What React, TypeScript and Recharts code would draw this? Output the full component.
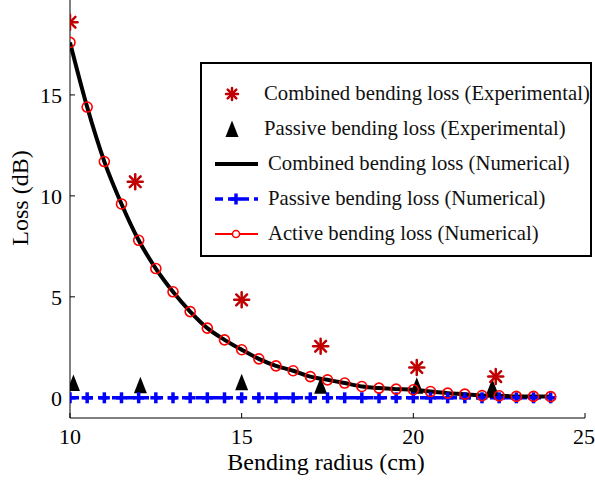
import React from "react";
import { ComposedChart, Legend, Line, Scatter, XAxis, YAxis } from "recharts";

// numerical curves, sampled every 0.5 cm
const radius = [
  10, 10.5, 11, 11.5, 12, 12.5, 13, 13.5, 14, 14.5, 15, 15.5, 16, 16.5, 17,
  17.5, 18, 18.5, 19, 19.5, 20, 20.5, 21, 21.5, 22, 22.5, 23, 23.5, 24,
];
const activeLoss = [
  17.6, 14.4, 11.7, 9.6, 7.8, 6.4, 5.25, 4.27, 3.45, 2.87, 2.38, 1.93, 1.58,
  1.34, 1.05, 0.89, 0.73, 0.56, 0.48, 0.43, 0.4, 0.31, 0.23, 0.18, 0.11, 0.1,
  0.07, 0.07, 0.06,
];
const combinedLoss = [
  17.6, 14.4, 11.7, 9.6, 7.8, 6.4, 5.25, 4.27, 3.45, 2.87, 2.38, 1.93, 1.58,
  1.34, 1.05, 0.89, 0.73, 0.56, 0.48, 0.43, 0.4, 0.31, 0.23, 0.18, 0.11, 0.1,
  0.07, 0.07, 0.06,
];
const passiveLoss = [
  0, 0, 0, 0, 0, 0, 0, 0, 0, 0, 0, 0, 0, 0, 0, 0, 0, 0, 0, 0, 0, 0, 0, 0, 0, 0,
  0, 0, 0,
];

// measurements
const expCombinedRadius = [10, 11.9, 15, 17.3, 20.1, 22.4];
const expCombinedLoss = [18.6, 10.7, 4.85, 2.55, 1.5, 1.05];
const expPassiveRadius = [10.1, 12.05, 15, 17.3, 20.1, 22.3];
const expPassiveLoss = [0.73, 0.62, 0.77, 0.6, 0.6, 0.52];

const xTicks = [10, 15, 20, 25];
const yTicks = [0, 5, 10, 15];

const legendNames = [
  "Combined bending loss (Experimental)",
  "Passive bending loss (Experimental)",
  "Combined bending loss (Numerical)",
  "Passive bending loss (Numerical)",
  "Active bending loss (Numerical)",
];

const toPoints = (xs: number[], ys: number[]) => xs.map((x, i) => ({ x, y: ys[i] }));

const activeData = toPoints(radius, activeLoss);
const combinedData = toPoints(radius, combinedLoss);
const passiveData = toPoints(radius, passiveLoss);
const expCombinedData = toPoints(expCombinedRadius, expCombinedLoss);
const expPassiveData = toPoints(expPassiveRadius, expPassiveLoss);

const FONT = "'Liberation Serif', 'Times New Roman', serif";
const DARK_RED = "#c00000";

const Asterisk = ({ cx, cy, s = 7.5 }: any) => {
  const d = s * 0.72;
  return (
    <g stroke={DARK_RED} strokeWidth={2.5} strokeLinecap="round">
      <line x1={cx - s} y1={cy} x2={cx + s} y2={cy} />
      <line x1={cx} y1={cy - s} x2={cx} y2={cy + s} />
      <line x1={cx - d} y1={cy - d} x2={cx + d} y2={cy + d} />
      <line x1={cx - d} y1={cy + d} x2={cx + d} y2={cy - d} />
    </g>
  );
};

const Triangle = ({ cx, cy }: any) => (
  <path d={`M${cx},${cy - 8.5} L${cx + 6.5},${cy + 8} L${cx - 6.5},${cy + 8} Z`} fill="#000" />
);

const Plus = ({ cx, cy }: any) => (
  <g stroke="#0000ff" strokeWidth={3.5}>
    <line x1={cx - 5.5} y1={cy} x2={cx + 5.5} y2={cy} />
    <line x1={cx} y1={cy - 5.5} x2={cx} y2={cy + 5.5} />
  </g>
);

const legendMarker = (i: number) => {
  if (i === 0) return <Asterisk cx={30} cy={10} s={6} />;
  if (i === 1) return <Triangle cx={30} cy={10} />;
  if (i === 2) return <line x1={13} x2={56} y1={10} y2={10} stroke="#000" strokeWidth={4} />;
  if (i === 3)
    return (
      <g>
        <line x1={13} x2={56} y1={10} y2={10} stroke="#0000ff" strokeWidth={3.5} strokeDasharray="8 5" />
        <Plus cx={34} cy={10} />
      </g>
    );
  return (
    <g>
      <line x1={13} x2={56} y1={10} y2={10} stroke="#ff0000" strokeWidth={1.8} />
      <circle cx={34} cy={10} r={3.5} fill="#fff" stroke="#ff0000" strokeWidth={1.5} />
    </g>
  );
};

const LegendBox = () => (
  <div
    style={{
      width: 392,
      height: 195,
      border: "2px solid #000",
      boxSizing: "border-box",
      background: "#fff",
      fontFamily: FONT,
      fontSize: 20.7,
      color: "#111",
      paddingTop: 12,
    }}
  >
    {legendNames.map((name, i) => (
      <div key={name} style={{ display: "flex", alignItems: "center", height: 35 }}>
        <svg width={64} height={20} style={{ flex: "none" }}>
          {legendMarker(i)}
        </svg>
        <span style={{ whiteSpace: "nowrap", marginLeft: i < 2 ? -2 : 2 }}>{name}</span>
      </div>
    ))}
  </div>
);

const tickStyle = { fill: "#000", fontSize: 22, fontFamily: FONT };

const YLabel = () => (
  <text
    x={20}
    y={198}
    transform="rotate(-90 20 198)"
    textAnchor="middle"
    dominantBaseline="central"
    fontFamily={FONT}
    fontSize={24}
    fill="#000"
  >
    Loss (dB)
  </text>
);

const XLabel = () => (
  <text x={326} y={470} textAnchor="middle" fontFamily={FONT} fontSize={24} fill="#000">
    Bending radius (cm)
  </text>
);

const App = () => {
  return (
    <div style={{ position: "absolute", left: 0, top: 0, background: "#fff" }}>
      <ComposedChart width={595} height={480} margin={{ top: 0, right: 10, left: 0, bottom: 0 }}>
        <XAxis
          type="number"
          dataKey="x"
          domain={[10, 25]}
          ticks={xTicks}
          allowDataOverflow
          height={62}
          stroke="#000"
          tick={tickStyle}
          tickSize={-5}
          tickMargin={15}
          label={<XLabel />}
        />
        <YAxis
          type="number"
          dataKey="y"
          domain={[-1, 19.7]}
          ticks={yTicks}
          allowDataOverflow
          width={70}
          stroke="#000"
          tick={tickStyle}
          tickSize={-5}
          tickMargin={13}
          label={<YLabel />}
        />
        <Line
          data={passiveData}
          dataKey="y"
          type="linear"
          stroke="#0000ff"
          strokeWidth={3.5}
          strokeDasharray="9 5"
          dot={(p: any) => <Plus key={`p${p.index}`} cx={p.cx} cy={p.cy} />}
          isAnimationActive={false}
        />
        <Line
          data={activeData}
          dataKey="y"
          type="monotone"
          stroke="#ff0000"
          strokeWidth={1.5}
          dot={{ r: 5, stroke: "#ff0000", strokeWidth: 1.6, fill: "none" }}
          isAnimationActive={false}
        />
        <Line
          data={combinedData}
          dataKey="y"
          type="monotone"
          stroke="#000"
          strokeWidth={4}
          dot={false}
          isAnimationActive={false}
        />
        <Scatter data={expPassiveData} dataKey="y" shape={<Triangle />} isAnimationActive={false} />
        <Scatter data={expCombinedData} dataKey="y" shape={<Asterisk />} isAnimationActive={false} />
        <Legend
          layout="vertical"
          align="center"
          verticalAlign="middle"
          wrapperStyle={{ left: 200, top: 62, width: 392, height: 195 }}
          content={() => <LegendBox />}
        />
      </ComposedChart>
    </div>
  );
};

export default App;
